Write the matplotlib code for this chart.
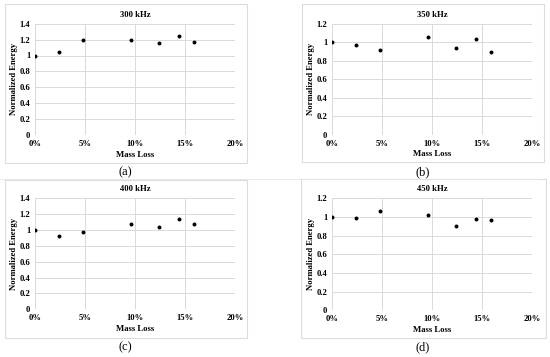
import numpy as np
import matplotlib
matplotlib.use("Agg")
import matplotlib.pyplot as plt
from matplotlib.patches import Rectangle
from matplotlib.ticker import PercentFormatter

# data
mass_loss = [0.0, 2.4, 4.8, 9.6, 12.4, 14.4, 15.9]
energy_300 = [1.0, 1.05, 1.2, 1.2, 1.16, 1.25, 1.17]
energy_350 = [1.0, 0.97, 0.92, 1.06, 0.94, 1.03, 0.89]
energy_400 = [1.0, 0.92, 0.97, 1.08, 1.04, 1.14, 1.07]
energy_450 = [1.0, 0.99, 1.06, 1.02, 0.90, 0.98, 0.97]
titles = ["300 kHz", "350 kHz", "400 kHz", "450 kHz"]
captions = ["(a)", "(b)", "(c)", "(d)"]
y_tops = [1.4, 1.2, 1.4, 1.2]

W, H = 550, 357
plt.rcParams["font.family"] = ["Liberation Serif", "DejaVu Serif"]

fig = plt.figure(figsize=(W / 100, H / 100), dpi=100)


def fx(x):
    return x / W


def fy(y):
    return 1 - y / H


# pixel layout: plot area, chart box, caption position
panels = [
    {"plot": (35, 23.7, 235, 135), "box": (5, 4, 247, 163), "cap": (125, 172)},
    {"plot": (332, 23.7, 532, 134.7), "box": (302, 4, 544, 162), "cap": (423, 172)},
    {"plot": (35, 198.3, 235, 309.3), "box": (5, 180, 247, 338), "cap": (125, 347)},
    {"plot": (332, 198.3, 532, 310.3), "box": (301, 179, 546, 338), "cap": (423, 347)},
]
series = [energy_300, energy_350, energy_400, energy_450]
fs = 6.2

for k, p in enumerate(panels):
    bx0, by0, bx1, by1 = p["box"]
    fig.patches.append(Rectangle((fx(bx0), fy(by1)), fx(bx1 - bx0), (by1 - by0) / H,
                                 transform=fig.transFigure, fill=False,
                                 edgecolor="#dcdcdc", linewidth=0.8))

    x0, y0, x1, y1 = p["plot"]
    ax = fig.add_axes([fx(x0), fy(y1), fx(x1 - x0), (y1 - y0) / H])
    ax.scatter(mass_loss, series[k], s=8, color="black", zorder=3, linewidths=0)

    ax.set_xlim(0, 20)
    ax.set_ylim(0, y_tops[k])
    ax.set_xticks([0, 5, 10, 15, 20])
    ax.set_yticks(np.arange(0, y_tops[k] + 0.01, 0.2))
    ax.xaxis.set_major_formatter(PercentFormatter(decimals=0))
    ax.yaxis.set_major_formatter(lambda v, pos: "%g" % round(v, 1))
    ax.grid(True, color="#d9d9d9", linewidth=0.7)
    ax.set_axisbelow(True)
    for s in ax.spines.values():
        s.set_visible(False)
    ax.tick_params(length=0, labelsize=fs, pad=3.5)
    for lab in ax.get_xticklabels() + ax.get_yticklabels():
        lab.set_fontweight("bold")

    ax.set_title(titles[k], fontsize=fs, fontweight="bold", pad=5)
    ax.set_xlabel("Mass Loss", fontsize=fs, fontweight="bold", labelpad=2)
    ax.set_ylabel("Normalized Energy", fontsize=fs, fontweight="bold", labelpad=1)

    cx, cy = p["cap"]
    fig.text(fx(cx), fy(cy), captions[k], ha="center", va="center", fontsize=9)

# thin rule between the two rows
fig.add_artist(plt.Line2D([0, fx(540)], [fy(178.5), fy(178.5)], color="#e6e6e6", linewidth=0.6))

fig.savefig("out.png", dpi=100, facecolor="white")
